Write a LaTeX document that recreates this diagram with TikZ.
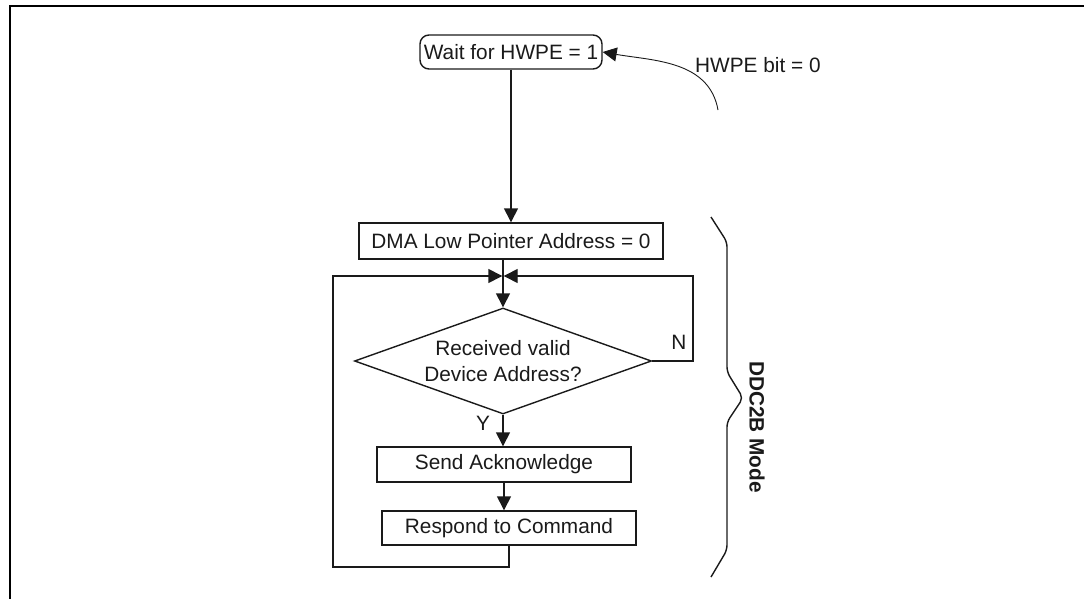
\documentclass[tikz,border=0pt]{standalone}
\usepackage{fontspec}
\setmainfont{Liberation Sans}
\usetikzlibrary{arrows.meta,shapes.geometric}
\definecolor{Ink}{HTML}{1A1A1A}
\definecolor{Frame}{HTML}{000000}

\begin{document}
\begin{tikzpicture}[x=1pt,y=-1pt,every node/.style={font=\fontsize{20.8}{26}\selectfont,text=Ink},line/.style={draw=Ink,line width=1.4pt},>={Triangle[length=14pt,width=14pt]},box/.style={draw=Ink,line width=1.4pt,minimum height=35pt,inner sep=0pt},dia/.style={diamond,draw=Ink,line width=1.4pt,aspect=2.8,inner sep=0pt,minimum width=297pt,minimum height=106pt,align=center},brace/.style={draw=Ink,line width=1.4pt,rounded corners=5pt}]
\useasboundingbox (0,0) rectangle (1084,599);
\draw[Frame,line width=2.5pt] (10,599)--(10,6)--(1084,6);

\node[box,rounded corners=9pt,minimum width=182pt,minimum height=34pt] (wait) at (511,52) {Wait for HWPE = 1};
\node[box,minimum width=304pt,minimum height=36pt] (dma) at (511,241) {DMA Low Pointer Address = 0};
\node[dia] (dev) at (503,361) {Received valid\\Device Address?};
\node[box,minimum width=254pt] (ack) at (504,464.5) {Send Acknowledge};
\node[box,minimum width=254pt,minimum height=34pt] (resp) at (509,528) {Respond to Command};

\coordinate (jn) at (503,276);\coordinate (rc) at (693,276);\coordinate (lc) at (333,567);\coordinate (hs) at (718,110);
\draw[line,->] (wait.south)--(wait.south|-dma.north);
\draw[line,->] (dma.south-|dev.north)--(dev.north);
\draw[line,->] (dev.south)--(dev.south|-ack.north);\node (y) at (483,423) {Y};
\draw[line,->] (ack.south)--(ack.south|-resp.north);
\draw[line,->,shorten >=0.7pt] (dev.east)-|(rc)--(jn);\node (n) at (679,342) {N};
\draw[line,->,shorten >=0.7pt] (resp.south)|-(lc)|-(jn);

\draw[draw=Ink,line width=0.9pt,->] (hs) to[out=100,in=-10] (wait.east);
\node[anchor=west,inner sep=0pt] (bit) at (695,65) {HWPE bit = 0};

\draw[brace] (711,217)--(727,242)--(727,372)--(743,398)--(727,422)--(727,550)--(711,577);
\node[font=\bfseries\fontsize{20.8}{24}\selectfont,rotate=-90] (mode) at (757,427) {DDC2B Mode};
\end{tikzpicture}
\end{document}
